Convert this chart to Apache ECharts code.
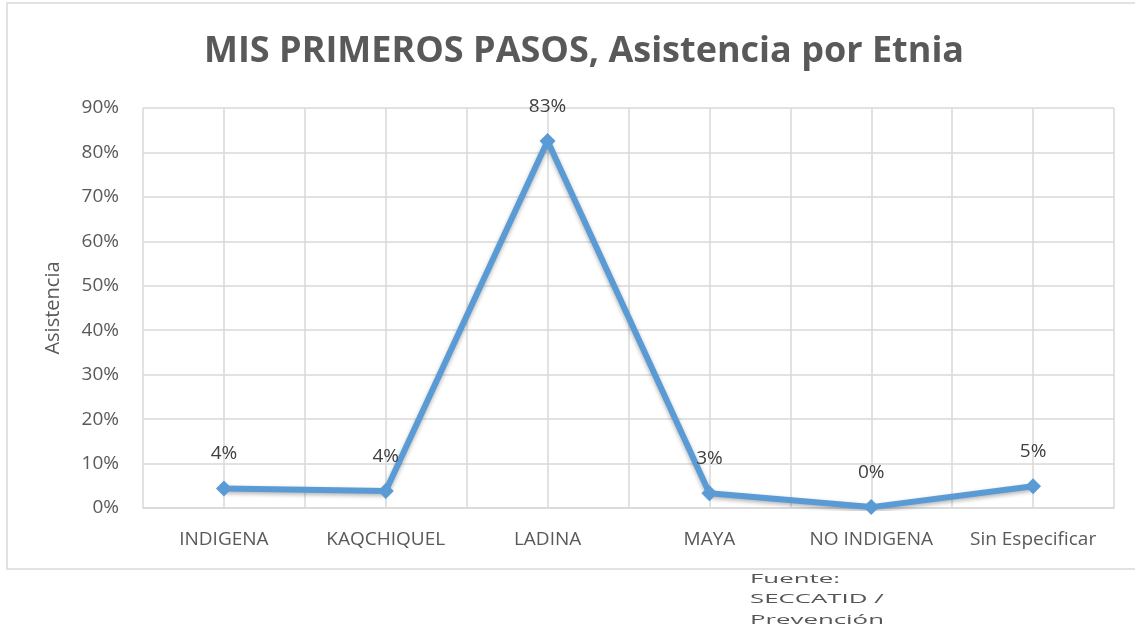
<!DOCTYPE html>
<html lang="es">
<head>
    <meta charset="UTF-8">
    <title>MIS PRIMEROS PASOS, Asistencia por Etnia</title>
    <script src="https://cdn.jsdelivr.net/npm/echarts@6/dist/echarts.min.js"></script>
    <style>
        html, body { margin: 0; padding: 0; background: #fff; }
        #chart { width: 1135px; height: 627px; }
    </style>
</head>
<body>
<div id="chart"></div>
<script>
// datos
const etnias = ['INDIGENA', 'KAQCHIQUEL', 'LADINA', 'MAYA', 'NO INDIGENA', 'Sin Especificar'];
const asistencia = [4.4, 3.8, 82.6, 3.3, 0.2, 4.9];
const yTicks = [0, 10, 20, 30, 40, 50, 60, 70, 80, 90];
const fuente = ['Fuente:', 'SECCATID /', 'Prevención'];

const chart = echarts.init(document.getElementById('chart'));
const font = 'Open Sans';
const gridColor = '#d9d9d9';

chart.setOption({
    animation: false,
    textStyle: { fontFamily: font },
    title: {
        text: 'MIS PRIMEROS PASOS, Asistencia por Etnia',
        left: 199,
        top: 29,
        textStyle: { fontSize: 36, fontWeight: 'bold', color: '#595959', fontFamily: font }
    },
    graphic: [
        // marco del grafico
        {
            type: 'rect',
            shape: { x: 7, y: 3, width: 1140, height: 566 },
            style: { fill: 'none', stroke: '#d9d9d9', lineWidth: 1.5 },
            silent: true
        },
        {
            type: 'text',
            left: 750,
            top: 569,
            scaleX: 2.15,
            style: {
                text: fuente.join('\n'),
                font: '12px ' + font,
                fill: '#555',
                lineHeight: 20.5
            }
        }
    ],
    grid: { left: 143, right: 21, top: 108, bottom: 119 },
    xAxis: [
        {
            type: 'category',
            data: etnias,
            boundaryGap: true,
            axisLine: { lineStyle: { color: gridColor, width: 1.5 } },
            axisTick: { show: false },
            splitLine: { show: false },
            axisLabel: { color: '#595959', fontSize: 19, margin: 22, interval: 0 }
        },
        {
            // lineas verticales de la cuadricula (cada media categoria)
            type: 'value',
            min: 0,
            max: etnias.length * 2,
            interval: 1,
            position: 'bottom',
            axisLine: { show: false },
            axisTick: { show: false },
            axisLabel: { show: false },
            splitLine: { show: true, lineStyle: { color: gridColor, width: 1.5 } }
        }
    ],
    yAxis: {
        type: 'value',
        min: yTicks[0],
        max: yTicks[yTicks.length - 1],
        interval: 10,
        name: 'Asistencia',
        nameLocation: 'middle',
        nameGap: 80,
        nameRotate: 90,
        nameTextStyle: { color: '#595959', fontSize: 20 },
        axisLine: { show: false },
        axisTick: { show: false },
        axisLabel: { color: '#595959', fontSize: 19, margin: 24, formatter: '{value}%' },
        splitLine: { lineStyle: { color: gridColor, width: 1.5 } }
    },
    series: [{
        type: 'line',
        xAxisIndex: 0,
        data: asistencia,
        symbol: 'diamond',
        symbolSize: 16,
        color: '#5b9bd5',
        lineStyle: {
            width: 6,
            color: '#5b9bd5',
            shadowColor: 'rgba(0,0,0,0.3)',
            shadowBlur: 4,
            shadowOffsetY: 2
        },
        itemStyle: { color: '#5b9bd5' },
        label: {
            show: true,
            position: 'top',
            distance: 17,
            color: '#404040',
            fontSize: 19,
            formatter: p => Math.round(p.value) + '%'
        }
    }]
});
</script>
</body>
</html>
